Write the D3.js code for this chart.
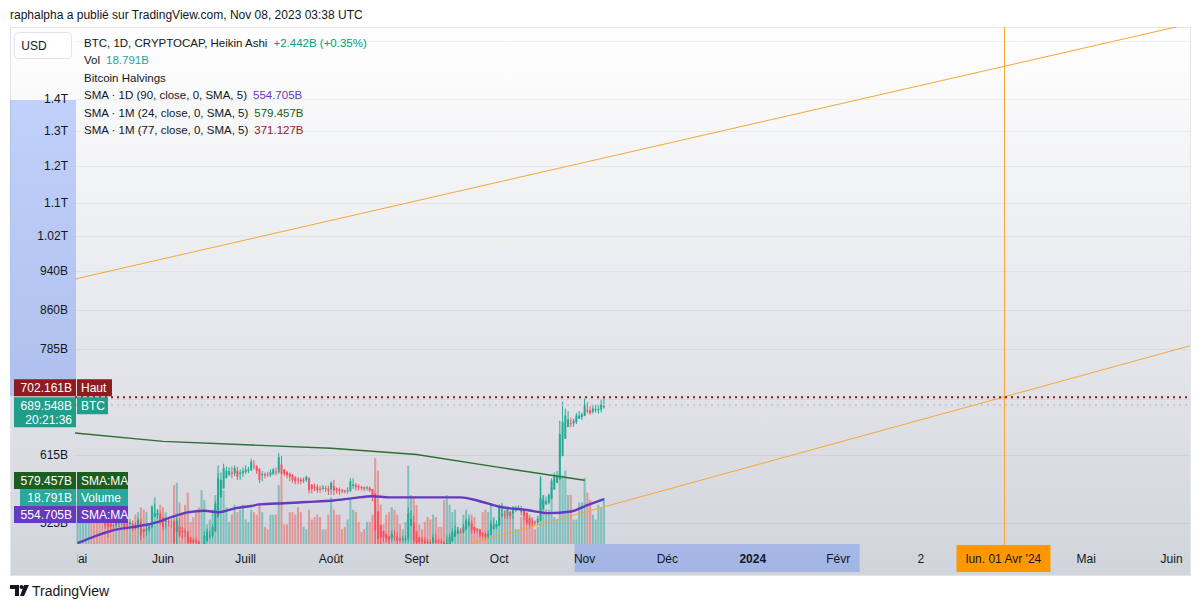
<!DOCTYPE html>
<html>
<head>
<meta charset="utf-8">
<script src="https://cdn.jsdelivr.net/npm/d3@7"></script>
<style>
  body { margin: 0; background: #fff; }
  svg { display: block; font-family: "Liberation Sans", Arial, sans-serif; }
</style>
</head>
<body>
<svg id="chart" width="1200" height="608"></svg>
<script>
// BTC market cap (CRYPTOCAP:BTC), daily Heikin Ashi, values in billions USD
const firstDay = "2023-05-01";

const closes = [
  545,557,563,559,572,561,553,537,535,535,522,520,520,522,528,524,532,520,522,526,520,522,528,510,514,518,522,545,537,537,528,
  520,528,526,526,501,528,510,514,514,501,502,502,502,487,497,510,514,510,520,549,582,580,596,592,592,588,596,584,590,592,
  594,594,605,598,592,580,588,586,586,590,594,590,611,588,588,586,584,580,578,580,578,580,584,566,568,570,566,568,570,568,566,
  576,566,566,565,565,565,566,578,574,570,570,570,568,570,566,557,516,506,508,508,506,504,512,508,504,504,506,506,537,530,504,
  501,502,504,501,501,501,508,502,502,501,487,501,508,514,516,516,514,520,528,526,516,516,516,510,510,508,512,524,522,524,
  546,536,534,542,534,544,544,544,538,534,525,523,525,525,530,556,554,552,560,579,585,585,645,663,673,667,661,665,673,673,675,
  690,681,677,684,683,683,690,689.548
];
const highs = [
  568,560,566,566,576,574,563,555,541,542,536,526,524,526,532,530,535,533,526,530,528,526,531,530,518,522,524,547,549,542,539,
  530,532,530,530,529,532,530,520,518,516,507,507,508,504,500,515,518,516,524,552,589,590,602,598,597,598,600,598,594,597,
  600,598,609,607,600,594,592,590,591,594,596,597,617,613,591,590,590,588,585,584,583,583,586,584,573,575,574,572,573,572,572,
  578,580,570,570,568,567,570,582,582,576,574,572,571,572,571,568,560,520,512,512,512,510,516,516,514,508,509,510,544,540,534,
  508,506,508,508,506,505,512,512,506,506,504,510,512,518,522,520,519,524,530,530,528,520,519,518,514,514,516,528,530,528,
  548,550,540,544,540,546,546,547,546,540,536,530,530,528,534,585,560,558,562,582,590,592,665,695,684,680,670,668,677,680,678,
  700,694,688,690,690,690,698,702.161
];
const lows = [
  533,540,550,552,556,557,551,534,531,530,518,508,516,518,519,520,522,516,516,518,515,516,518,505,507,510,514,520,532,530,523,
  516,518,521,520,494,498,508,506,508,498,498,498,499,484,482,496,508,506,507,518,547,575,578,588,585,582,585,580,580,584,
  588,589,592,594,588,576,578,582,584,584,586,586,588,586,585,582,578,576,574,574,574,576,577,562,562,565,563,563,566,564,560,
  560,560,562,560,562,562,562,564,568,566,566,566,565,566,564,552,500,494,500,502,502,498,502,504,500,502,502,502,502,526,500,
  498,499,500,497,498,496,500,500,500,495,484,484,500,506,510,512,512,512,518,520,512,512,513,508,506,504,506,510,518,518,
  522,532,530,530,530,530,538,540,534,528,522,518,520,522,522,528,550,548,548,558,578,580,582,640,660,662,655,656,660,668,666,
  672,676,674,676,678,676,678,684
];
const volumes = [
  17,19,20,16,19,9,10,26,16,17,19,22,9,8,12,13,14,16,12,7,7,12,13,15,14,13,7,11,19,14,16,
  15,13,8,8,24,25,17,13,16,21,9,11,13,15,22,18,8,10,14,20,32,26,22,15,9,12,16,13,14,16,
  10,9,14,13,12,16,13,7,6,12,12,12,24,28,8,8,13,13,12,15,13,7,6,14,10,11,12,11,6,6,12,
  19,14,12,12,6,7,10,18,14,13,9,5,6,9,9,12,35,30,16,8,12,13,15,14,12,8,6,9,32,20,19,
  16,8,6,9,11,10,12,11,7,7,18,20,16,13,14,7,6,12,14,12,12,11,6,5,13,14,13,16,11,8,
  11,16,14,12,13,12,6,6,11,12,13,12,11,6,7,27,20,14,14,23,11,10,29,28,30,20,20,10,10,17,17,
  27,21,18,12,10,16,15,18.791
];

// SMA 1D (90) sampled along the line
const smaDayDates = ["2023-05-01","2023-05-15","2023-05-23","2023-05-30","2023-06-04","2023-06-10","2023-06-16","2023-06-21",
  "2023-06-27","2023-07-03","2023-07-06","2023-07-15","2023-07-23","2023-08-02","2023-08-09","2023-08-16","2023-08-22",
  "2023-09-02","2023-09-17","2023-09-23","2023-10-01","2023-10-11","2023-10-19","2023-10-27","2023-11-02","2023-11-08"];
const smaDayValues = [501,517,521,526,532,538,540,538,543,546,548,549.5,551,553,556,558.5,557,557,557,553,545,541,537,539,547,554.705];

// SMA 1M (24) monthly points
const smaMonthDates = ["2023-04-01","2023-05-01","2023-06-01","2023-07-01","2023-08-01","2023-09-01","2023-10-01","2023-11-01"];
const smaMonthValues = [658,646,634,629,624,615,597,579.457];

// grid levels; labels for the ones the axis shows
const priceTicks = [1600,1400,1300,1200,1100,1020,940,860,785,700,615,525];
const priceTickLabels = [null,"1.4T","1.3T","1.2T","1.1T","1.02T","940B","860B","785B",null,"615B","525B"];

const timeTickDates = ["2023-05-01","2023-06-01","2023-07-01","2023-08-01","2023-09-01","2023-10-01","2023-11-01",
  "2023-12-01","2024-01-01","2024-02-01","2024-03-02","2024-05-01","2024-06-01"];
const timeTickLabels = ["Mai","Juin","Juill","Août","Sept","Oct","Nov","Déc","2024","Févr","2","Mai","Juin"];

const trendTop = [["2023-04-30", 923], ["2024-06-01", 1650]];
const trendLow = [["2023-09-20", 500], ["2024-06-07", 790]];
const halvingDate = "2024-04-01";

const highValue = 702.161, lastValue = 689.548;

const svg = d3.select("#chart");
const L = 75, R = 1190, T = 27, B = 544, AB = 575;
const parse = d3.utcParse("%Y-%m-%d");

const x = d3.scaleUtc().domain([parse("2023-06-01"), parse("2024-04-01")]).range([163, 1003.5]);
const y = d3.scaleLog().domain([500, 1400]).range([B, 99]);
const yVol = d3.scaleLinear().domain([0, 40]).range([B, B - 98]);

const days = d3.utcDay.range(parse(firstDay), d3.utcDay.offset(parse(firstDay), closes.length));

// heikin ashi open from previous bar
let candles = [];
closes.forEach((c, i) => {
  let o = i == 0 ? c : (candles[i-1].o + candles[i-1].c) / 2;
  candles.push({
    date: days[i], o: o, c: c,
    h: Math.max(highs[i], o, c), l: Math.min(lows[i], o, c),
    v: volumes[i], up: c >= o
  });
});

const defs = svg.append("defs");
const grad = defs.append("linearGradient").attr("id", "bg")
  .attr("gradientUnits", "userSpaceOnUse").attr("x1", 0).attr("y1", T).attr("x2", 0).attr("y2", AB);
grad.append("stop").attr("offset", "0%").attr("stop-color", "#ffffff");
grad.append("stop").attr("offset", "100%").attr("stop-color", "#d1d4db");
defs.append("clipPath").attr("id", "plotClip").append("rect")
  .attr("x", L).attr("y", T).attr("width", R - L).attr("height", B - T);
defs.append("clipPath").attr("id", "timeClip").append("rect")
  .attr("x", L + 2).attr("y", B).attr("width", R - L - 2).attr("height", AB - B);
defs.append("clipPath").attr("id", "tagClip").append("rect")
  .attr("x", 0).attr("y", 523).attr("width", 76).attr("height", 30);

// header
svg.append("text").attr("x", 10).attr("y", 19).attr("font-size", 12).attr("fill", "#131722")
  .text("raphalpha a publié sur TradingView.com, Nov 08, 2023 03:38 UTC");

svg.append("rect").attr("x", 10.5).attr("y", T + 0.5).attr("width", R - 10).attr("height", AB - T)
  .attr("fill", "url(#bg)").attr("stroke", "#e3e5ea");

// selection highlights on the axes
svg.append("rect").attr("x", 10).attr("y", 100).attr("width", 66).attr("height", 296)
  .attr("fill", "rgba(41,98,255,0.27)");
svg.append("rect").attr("x", x(parse("2023-11-01")) - 10).attr("y", B).attr("width", 285).attr("height", AB - B - 3)
  .attr("fill", "rgba(41,98,255,0.27)");

// grid
svg.append("g").selectAll("line").data(priceTicks).join("line")
  .attr("x1", L).attr("x2", R).attr("y1", d => Math.round(y(d)) + 0.5).attr("y2", d => Math.round(y(d)) + 0.5)
  .attr("stroke", "rgba(42,46,57,0.06)");

const plot = svg.append("g").attr("clip-path", "url(#plotClip)");
const bw = 2;

plot.append("g").selectAll("rect").data(candles).join("rect")
  .attr("x", d => x(d.date) - bw / 2).attr("width", bw)
  .attr("y", d => yVol(d.v)).attr("height", d => B - yVol(d.v))
  .attr("fill", d => d.up ? "rgba(38,166,154,0.5)" : "rgba(239,83,80,0.5)");

const cg = plot.append("g");
cg.selectAll("line").data(candles).join("line")
  .attr("x1", d => x(d.date)).attr("x2", d => x(d.date))
  .attr("y1", d => y(d.h)).attr("y2", d => y(d.l))
  .attr("stroke", d => d.up ? "#22ab94" : "#f7525f").attr("stroke-width", 1);
cg.selectAll("rect").data(candles).join("rect")
  .attr("x", d => x(d.date) - bw / 2).attr("width", bw)
  .attr("y", d => y(Math.max(d.o, d.c))).attr("height", d => Math.max(1, Math.abs(y(d.o) - y(d.c))))
  .attr("fill", d => d.up ? "#22ab94" : "#f7525f");

const line = d3.line().x(d => x(d[0])).y(d => y(d[1]));
plot.append("path")
  .datum(smaMonthDates.map((d, i) => [parse(d), smaMonthValues[i]]))
  .attr("d", line).attr("fill", "none").attr("stroke", "#2f6f36").attr("stroke-width", 1.4);
plot.append("path")
  .datum(smaDayDates.map((d, i) => [parse(d), smaDayValues[i]]))
  .attr("d", line.curve(d3.curveMonotoneX)).attr("fill", "none").attr("stroke", "#6639c1").attr("stroke-width", 2.4);

[trendTop, trendLow].forEach(t => {
  // extend the segment across the whole pane
  let x1 = x(parse(t[0][0])), y1 = y(t[0][1]), x2 = x(parse(t[1][0])), y2 = y(t[1][1]);
  let s = (y2 - y1) / (x2 - x1);
  plot.append("line").attr("x1", L).attr("y1", y1 + s * (L - x1)).attr("x2", R).attr("y2", y1 + s * (R - x1))
    .attr("stroke", "#f7a738").attr("stroke-width", 1);
});
const hx = x(parse(halvingDate));
svg.append("line").attr("x1", Math.round(hx) + 0.5).attr("x2", Math.round(hx) + 0.5)
  .attr("y1", T).attr("y2", B + 2).attr("stroke", "#f7a738").attr("stroke-width", 1);

plot.append("line").attr("x1", L).attr("x2", R).attr("y1", y(lastValue)).attr("y2", y(lastValue))
  .attr("stroke", "#c9bcc6").attr("stroke-width", 1.5).attr("stroke-dasharray", "2,4");
plot.append("line").attr("x1", L).attr("x2", R).attr("y1", y(highValue)).attr("y2", y(highValue))
  .attr("stroke", "#8c1c22").attr("stroke-width", 2).attr("stroke-dasharray", "2,4");

// price axis labels (525B only peeks out under the purple tag)
svg.append("g").selectAll("text").data(priceTicks.filter((d, i) => priceTickLabels[i])).join("text")
  .attr("x", 68).attr("y", d => y(d)).attr("dy", "0.35em").attr("text-anchor", "end")
  .attr("clip-path", d => d == 525 ? "url(#tagClip)" : null)
  .attr("font-size", 12).attr("fill", "#131722").text(d => priceTickLabels[priceTicks.indexOf(d)]);

// USD box
svg.append("rect").attr("x", 14.5).attr("y", 32.5).attr("width", 57).attr("height", 26).attr("rx", 4)
  .attr("fill", "#fff").attr("stroke", "#e0e3eb");
svg.append("text").attr("x", 34).attr("y", 46).attr("dy", "0.35em").attr("text-anchor", "middle")
  .attr("font-size", 12).attr("fill", "#131722").text("USD");

// value tags on the price axis
function tag(y0, h, val, name, nameW, col, sub, xv) {
  let g = svg.append("g");
  g.append("rect").attr("x", xv || 14).attr("y", y0).attr("width", 76 - (xv || 14)).attr("height", h).attr("fill", col);
  g.append("rect").attr("x", 77).attr("y", y0).attr("width", nameW).attr("height", 17).attr("fill", col);
  g.append("text").attr("x", 72).attr("y", y0 + 8.5).attr("dy", "0.35em").attr("text-anchor", "end")
    .attr("font-size", 12).attr("fill", "#fff").text(val);
  if (sub) g.append("text").attr("x", 72).attr("y", y0 + 23).attr("dy", "0.35em").attr("text-anchor", "end")
    .attr("font-size", 12).attr("fill", "#fff").text(sub);
  g.append("text").attr("x", 81).attr("y", y0 + 8.5).attr("dy", "0.35em")
    .attr("font-size", 12).attr("fill", "#fff").text(name);
}
tag(y(highValue) - 18, 17, "702.161B", "Haut", 35, "#8c1c22");
tag(y(highValue), 30, "689.548B", "BTC", 31, "#1f9e89", "20:21:36");
tag(472, 17, "579.457B", "SMA:MA", 51, "#1b5e20");
tag(489, 17, "18.791B", "Volume", 51, "#2aa89b", null, 20);
tag(506, 17, "554.705B", "SMA:MA", 51, "#6639c1");

// time axis
const ta = svg.append("g").attr("clip-path", "url(#timeClip)");
ta.selectAll("text").data(timeTickDates).join("text")
  .attr("x", d => x(parse(d))).attr("y", 559).attr("dy", "0.35em").attr("text-anchor", "middle")
  .attr("font-size", 12).attr("fill", "#131722")
  .attr("font-weight", (d, i) => timeTickLabels[i] == "2024" ? "bold" : "normal")
  .text((d, i) => timeTickLabels[i]);
svg.append("rect").attr("x", hx - 47).attr("y", B + 1).attr("width", 94).attr("height", 27).attr("fill", "#ff9800");
svg.append("text").attr("x", hx).attr("y", 559).attr("dy", "0.35em").attr("text-anchor", "middle")
  .attr("font-size", 12).attr("fill", "#131722").text("lun. 01 Avr '24");

// legend
const lg = svg.append("g").attr("font-size", 11.5).attr("fill", "#131722");
const rows = [
  [["BTC, 1D, CRYPTOCAP, Heikin Ashi", "#131722"], ["+2.442B (+0.35%)", "#089981"]],
  [["Vol", "#131722"], ["18.791B", "#26a69a"]],
  [["Bitcoin Halvings", "#131722"]],
  [["SMA · 1D (90, close, 0, SMA, 5)", "#131722"], ["554.705B", "#6639c1"]],
  [["SMA · 1M (24, close, 0, SMA, 5)", "#131722"], ["579.457B", "#1b5e20"]],
  [["SMA · 1M (77, close, 0, SMA, 5)", "#131722"], ["371.127B", "#8e1c2a"]]
];
rows.forEach((r, i) => {
  let t = lg.append("text").attr("x", 84).attr("y", 43 + i * 17.4).attr("dy", "0.35em");
  r.forEach((p, j) => t.append("tspan").attr("dx", j ? 6 : 0).attr("fill", p[1]).text(p[0]));
});

// footer logo
const logo = svg.append("g").attr("fill", "#131722");
logo.append("path").attr("d", "M10,585 h9 v11 h-4 v-7 h-5 z");
logo.append("circle").attr("cx", 21.5).attr("cy", 587).attr("r", 2);
logo.append("path").attr("d", "M24,585 h5 l-5,11 h-4 z");
svg.append("text").attr("x", 32).attr("y", 591).attr("dy", "0.35em").attr("font-size", 14)
  .attr("fill", "#131722").text("TradingView");
</script>
</body>
</html>
